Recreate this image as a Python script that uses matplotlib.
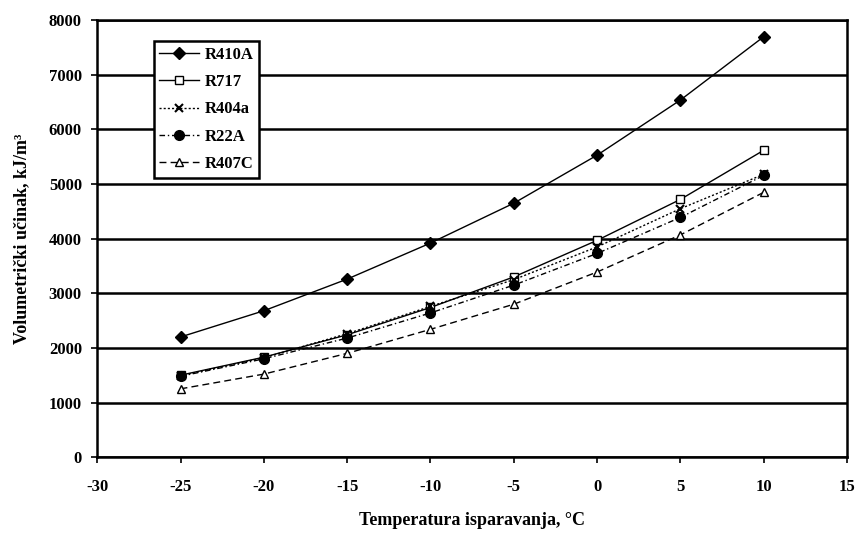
import matplotlib
matplotlib.use("Agg")
import matplotlib.pyplot as plt

plt.rcParams['font.family'] = ['Liberation Serif', 'DejaVu Serif']
plt.rcParams['font.weight'] = 'bold'
plt.rcParams['axes.unicode_minus'] = False

# evaporation temperature, degC
temps = [-25, -20, -15, -10, -5, 0, 5, 10]

# volumetric capacity, kJ/m3
r410a = [2200, 2680, 3260, 3920, 4650, 5530, 6540, 7700]
r717 = [1500, 1830, 2240, 2740, 3300, 3970, 4720, 5620]
r404a = [1490, 1820, 2260, 2760, 3250, 3850, 4550, 5180]
r22a = [1480, 1800, 2180, 2640, 3150, 3730, 4390, 5160]
r407c = [1250, 1520, 1900, 2340, 2800, 3390, 4070, 4850]

x_ticks = [-30, -25, -20, -15, -10, -5, 0, 5, 10, 15]
y_ticks = [0, 1000, 2000, 3000, 4000, 5000, 6000, 7000, 8000]

fig = plt.figure(figsize=(8.6, 5.34), dpi=100)
ax = fig.add_axes([0.113, 0.144, 0.872, 0.818])

ax.plot(temps, r410a, color='black', lw=1.0, ls='-', marker='D', ms=6,
        mfc='black', mec='black', label='R410A')
ax.plot(temps, r717, color='black', lw=1.0, ls='-', marker='s', ms=6,
        mfc='white', mec='black', label='R717')
ax.plot(temps, r404a, color='black', lw=1.0, ls=(0, (1.5, 1.5)), marker='x', ms=6,
        mew=1.5, label='R404a')
ax.plot(temps, r22a, color='black', lw=1.0, ls=(0, (4, 2, 1, 2)), marker='o', ms=7,
        mfc='black', mec='black', label='R22A')
ax.plot(temps, r407c, color='black', lw=1.0, ls=(0, (5, 3)), marker='^', ms=6,
        mfc='white', mec='black', label='R407C')

ax.set_xlim(-30, 15)
ax.set_ylim(0, 8000)
ax.set_xticks(x_ticks)
ax.set_yticks(y_ticks)
ax.yaxis.grid(True, color='black', lw=1.8)
ax.set_axisbelow(True)
for s in ax.spines.values():
    s.set_linewidth(1.8)
ax.tick_params(direction='out', length=4, width=1.2, labelsize=12)
ax.tick_params(axis='x', pad=12)
ax.tick_params(axis='y', pad=7)
for lab in ax.get_xticklabels() + ax.get_yticklabels():
    lab.set_fontweight('bold')

ax.set_xlabel('Temperatura isparavanja, °C', fontsize=13, fontweight='bold', labelpad=12)
ax.set_ylabel('Volumetrički učinak, kJ/m³', fontsize=13, fontweight='bold', labelpad=13)

leg = ax.legend(loc='upper left', bbox_to_anchor=(0.064, 0.972), frameon=True,
                fancybox=False, edgecolor='black', framealpha=1, fontsize=12,
                handlelength=2.4, handletextpad=0.3, borderpad=0.35, labelspacing=0.68)
leg.get_frame().set_linewidth(1.8)
for t in leg.get_texts():
    t.set_fontweight('bold')

fig.savefig('out.png', dpi=100)
